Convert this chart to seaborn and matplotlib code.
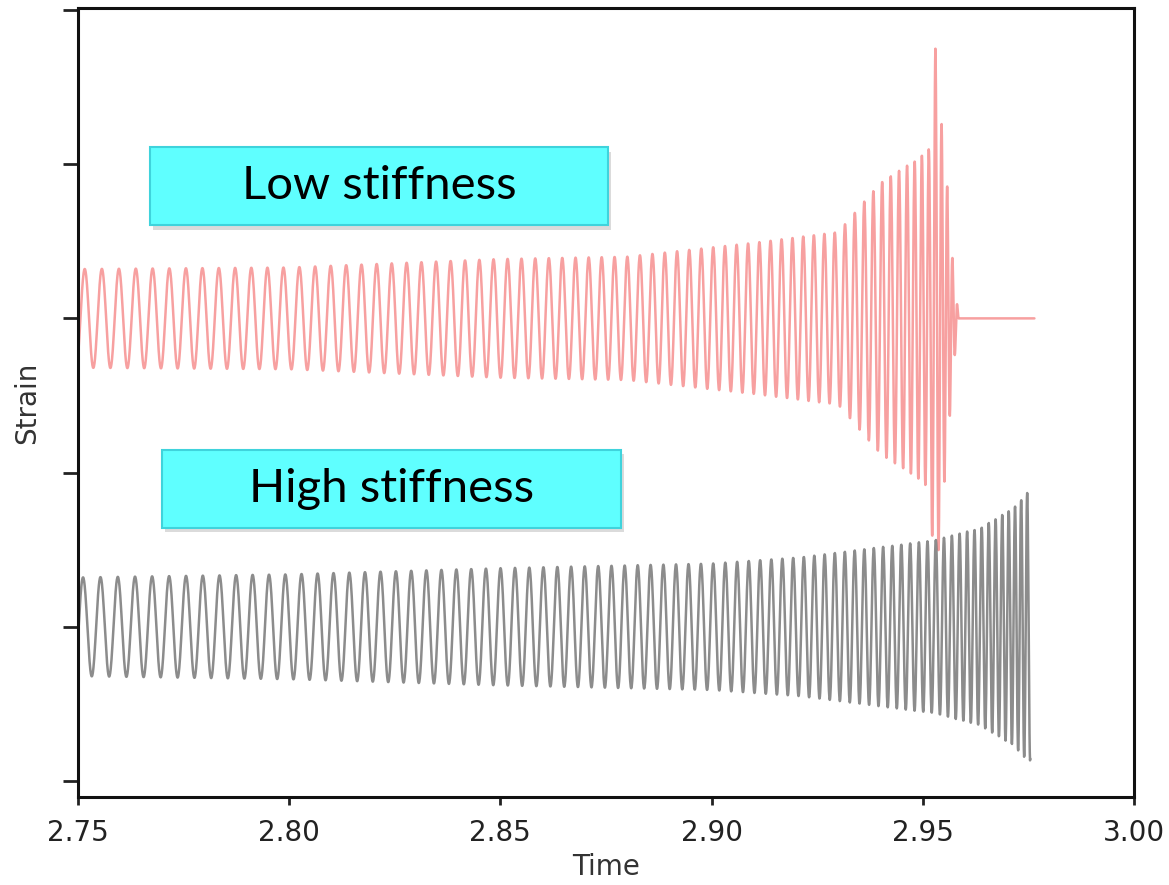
import numpy as np
import seaborn as sns
import matplotlib.pyplot as plt
from matplotlib.patches import Rectangle

# envelope (half amplitude, in strain units)
red_env_t = [2.750, 2.800, 2.850, 2.880, 2.910, 2.930, 2.940, 2.948, 2.9515, 2.953, 2.9545, 2.956, 2.957, 2.9585, 2.9765]
red_env = [0.32, 0.33, 0.385, 0.40, 0.49, 0.56, 0.88, 1.02, 1.10, 1.75, 1.25, 0.80, 0.40, 0.0, 0.0]
# instantaneous frequency (Hz) read from the spacing of the peaks
red_freq_t = [2.750, 2.800, 2.850, 2.900, 2.930, 2.945, 2.953, 2.9585]
red_freq = [245, 265, 300, 355, 410, 520, 650, 900]
red_main_peak = 2.953
red_offset = 1.0

gray_env_t = [2.750, 2.800, 2.850, 2.900, 2.921, 2.9526, 2.9636, 2.9715, 2.9748, 2.9755]
gray_env = [0.32, 0.34, 0.38, 0.41, 0.45, 0.56, 0.64, 0.77, 0.87, 0.87]
gray_freq_t = [2.750, 2.800, 2.850, 2.900, 2.930, 2.950, 2.965, 2.9755]
gray_freq = [241, 260, 290, 345, 420, 490, 600, 720]
gray_first_peak = 2.7512
gray_offset = -1.0

labels = ['Low stiffness', 'High stiffness']
xticks = [2.75, 2.80, 2.85, 2.90, 2.95, 3.00]


def wave(env_t, env, freq_t, freq, peak_at, offset):
    fs = 16384
    t = np.arange(env_t[0], env_t[-1], 1.0 / fs)
    f = np.interp(t, freq_t, freq)
    phase = 2 * np.pi * np.cumsum(f) / fs
    phase = phase - np.interp(peak_at, t, phase)
    return t, offset + np.interp(t, env_t, env) * np.cos(phase)


sns.set_theme(style="ticks")
fig = plt.figure(figsize=(11.69, 8.85), dpi=100)
ax = fig.add_axes([0.0667, 0.0994, 0.9033, 0.8916])

t_r, h_r = wave(red_env_t, red_env, red_freq_t, red_freq, red_main_peak, red_offset)
t_g, h_g = wave(gray_env_t, gray_env, gray_freq_t, gray_freq, gray_first_peak, gray_offset)
sns.lineplot(x=t_r, y=h_r, ax=ax, color='#f47878', alpha=0.7, lw=1.8, sort=False, estimator=None)
sns.lineplot(x=t_g, y=h_g, ax=ax, color='#6f6f6f', alpha=0.8, lw=1.8, sort=False, estimator=None)

ax.set_xlim(2.75, 3.00)
ax.set_ylim(-2.104, 3.013)
ax.set_xticks(xticks)
ax.set_xticklabels(['%.2f' % x for x in xticks])
ax.set_yticks([-2, -1, 0, 1, 2, 3])
ax.set_yticklabels([])
ax.set_xlabel('Time', fontsize=20, color='#333333')
ax.set_ylabel('Strain', fontsize=20, color='#333333', labelpad=12)
ax.tick_params(axis='x', labelsize=20, length=6, width=2, colors='#222222', pad=10)
ax.tick_params(axis='y', length=11, width=2, colors='#222222')
for sp in ax.spines.values():
    sp.set_linewidth(2.2)
    sp.set_color('#111111')

# annotation boxes
boxes = [(2.7671, 1.604, 0.1084, 0.506), (2.7699, -0.357, 0.1087, 0.506)]
for (x0, y0, w, h), lab in zip(boxes, labels):
    ax.add_patch(Rectangle((x0 + 0.0006, y0 - 0.03), w, h, facecolor='#999999', alpha=0.35,
                           edgecolor='none', zorder=4))
    ax.add_patch(Rectangle((x0, y0), w, h, facecolor='#5fffff', edgecolor='#3fd3dc', lw=1.5, zorder=5))
    ax.text(x0 + w / 2, y0 + h / 2, lab, ha='center', va='center', fontsize=34,
            family=['Lato', 'DejaVu Sans'], color='black', zorder=6)

fig.savefig('out.png', dpi=100)
